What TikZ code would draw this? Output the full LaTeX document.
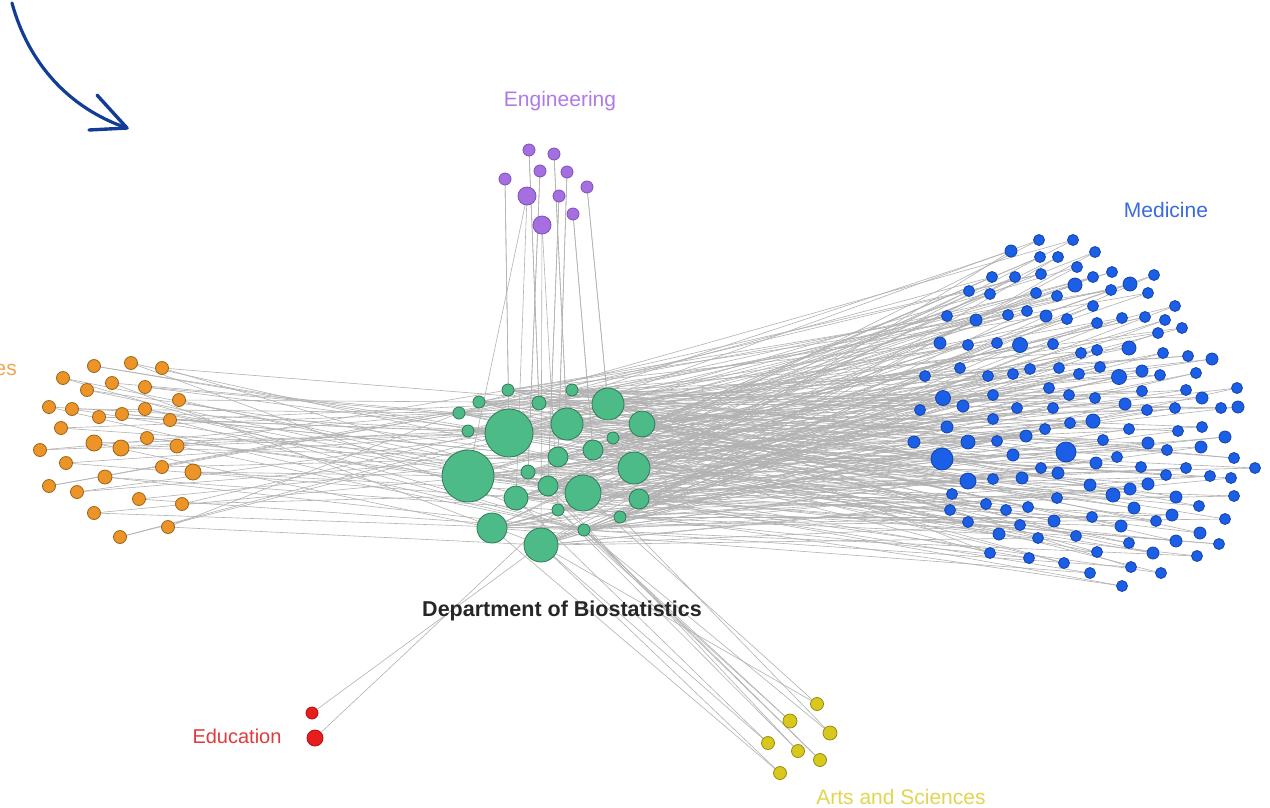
\documentclass[tikz,border=0pt]{standalone}
\usepackage{fontspec}
\setmainfont{Liberation Sans}
\pgfdeclarelayer{bg}
\pgfsetlayers{bg,main}
\definecolor{grfill}{HTML}{4DBB87}
\definecolor{grdraw}{HTML}{2F7A55}
\definecolor{blfill}{HTML}{1B5FE6}
\definecolor{bldraw}{HTML}{1543A8}
\definecolor{orfill}{HTML}{EC9428}
\definecolor{ordraw}{HTML}{9A6418}
\definecolor{pufill}{HTML}{A56FE0}
\definecolor{pudraw}{HTML}{7D4FC0}
\definecolor{refill}{HTML}{E81E1E}
\definecolor{redraw}{HTML}{A81414}
\definecolor{yefill}{HTML}{D8C81E}
\definecolor{yedraw}{HTML}{978A12}
\definecolor{edgec}{HTML}{B2B2B2}
\definecolor{arrowc}{HTML}{123C96}
\definecolor{labeng}{HTML}{B07AE6}
\definecolor{labmed}{HTML}{3A6AE0}
\definecolor{labor}{HTML}{F2A650}
\definecolor{labedu}{HTML}{E23A3A}
\definecolor{labart}{HTML}{E2D550}
\tikzset{
  dot/.style={circle,inner sep=0pt,line width=0.8pt},
  gdot/.style={dot,fill=grfill,draw=grdraw},
  bdot/.style={dot,fill=blfill,draw=bldraw},
  odot/.style={dot,fill=orfill,draw=ordraw},
  pdot/.style={dot,fill=pufill,draw=pudraw},
  rdot/.style={dot,fill=refill,draw=redraw},
  ydot/.style={dot,fill=yefill,draw=yedraw},
  edge/.style={draw=edgec,line width=0.6pt},
  lab/.style={inner sep=0pt,font=\fontsize{21}{25}\selectfont},
}
\begin{document}
\begin{tikzpicture}[x=1pt,y=-1pt]
\begin{pgfonlayer}{bg}
\fill[white] (0,0) rectangle (1270,807);
\end{pgfonlayer}
\useasboundingbox (0,0) rectangle (1270,807);
% green cluster
\foreach \x/\y/\r [count=\i] in {508/390/6,479/402/6,459/413/6,468/431/6,572/390/6,539/403/7,608/404/16,509/433/24,567/424/16,642/424/13,613/438/6,468/476/26,558/457/10,593/450/10,634/468/16,528/472/7,548/486/10,583/493/18,516/498/12,639/499/10,558/510/6,620/517/6,584/530/6,492/528/15,541/545/17}{
  \pgfmathsetmacro\d{2*\r}
  \node[gdot,minimum size=\d pt] (g\i) at (\x,\y) {};
}
% blue cluster (Medicine)
\foreach \x/\y/\r [count=\i] in {1039/240/5.5,1073/240/5.5,1095/252/5.5,1011/251/6,1040/257/5.5,1058/257/5.5,1077/267/5.5,1093/277/5.5,992/277/5.5,1015/277/5.5,1041/274/5.5,1075/285/7,969/291/5.5,990/294/5.5,1036/293/5.5,1057/296/5.5,1093/306/5.5,947/316/5.5,976/320/6,1008/315/5.5,1027/311/5.5,1046/316/6,1067/319/5.5,1097/323/5.5,940/343/6,968/345/5.5,997/343/5.5,1020/345/7.5,1053/344/5.5,1081/353/5.5,1097/350/5.5,925/376/5.5,960/368/5.5,988/376/5.5,1013/374/5.5,1030/369/5.5,1059/368/5.5,1079/374/5.5,1049/388/5.5,1069/395/5.5,1095/398/5.5,943/398/7.5,963/406/6,993/395/5.5,1017/408/5.5,1053/408/5.5,920/410/5.5,1112/272/5.5,1154/275/5.5,1111/290/5.5,1130/284/7,1148/293/5.5,1175/306/5.5,1122/318/5.5,1145/317/5.5,1165/320/5.5,1158/333/5.5,1182/328/5.5,1129/348/7,1163/353/5.5,1188/356/5.5,1212/359/6,1100/367/5.5,1119/377/7.5,1142/371/6,1160/375/5.5,1196/373/5.5,1142/391/5.5,1186/390/5.5,1202/398/6,1237/388/5.5,1125/404/6,1147/410/5.5,1175/408/5.5,1221/408/5.5,1238/407/6,1093/421/7,1070/423/5.5,947/427/6,993/419/5.5,1045/429/5.5,914/442/6,968/442/7,997/441/5.5,1026/436/6,1066/452/10,942/459/11,1013/455/6,1041/468/5.5,1058/473/6,1096/463/6,968/481/8,993/479/5.5,1022/478/6,1090/485/6,952/494/5.5,950/510/5.5,986/504/5.5,1006/510/5.5,1028/507/5.5,1057/498/5.5,968/522/5.5,999/534/6,1020/525/5.5,1054/521/6,1092/517/5.5,1038/538/5.5,1076/536/5.5,990/553/5.5,1029/558/5.5,1064/563/5.5,1097/552/5.5,1090/573/5.5,1129/429/5.5,1178/431/5.5,1202/427/5.5,1225/437/6,1103/440/5.5,1148/443/6,1167/450/5.5,1201/447/6,1117/457/5.5,1141/467/5.5,1186/468/5.5,1234/458/5.5,1255/468/5.5,1113/495/7,1130/489/6,1148/484/6,1166/475/5.5,1210/476/5.5,1231/478/5.5,1176/497/6,1199/506/5.5,1234/496/5.5,1134/508/6,1156/521/5.5,1172/515/6,1225/519/5.5,1121/526/6,1200/533/6,1219/544/5.5,1129/543/5.5,1153/553/6,1176/541/6,1197/556/5.5,1131/567/5.5,1161/573/5.5,1122/586/5.5}{
  \pgfmathsetmacro\d{2*\r}
  \node[bdot,minimum size=\d pt] (b\i) at (\x,\y) {};
  \pgfmathtruncatemacro\ta{mod(7*\i,25)+1}
  \pgfmathtruncatemacro\tb{mod(11*\i+5,25)+1}
  \begin{pgfonlayer}{bg}
    \draw[edge] (b\i.center) -- (g\ta.center);
    \draw[edge] (b\i.center) -- (g\tb.center);
  \end{pgfonlayer}
}
% orange cluster
\foreach \x/\y/\r [count=\i] in {94/366/6.5,131/363/6.5,162/368/6.5,63/378/6.5,112/383/6.5,145/387/6.5,87/390/6.5,179/400/6.5,49/407/6.5,72/409/6.5,99/417/6.5,122/414/6.5,145/409/6.5,170/420/6.5,61/428/6.5,94/443/8,121/448/8,147/438/6.5,177/446/7,40/450/6.5,66/463/6.5,162/467/6.5,193/472/8,105/477/7,49/486/6.5,77/492/6.5,139/499/6.5,182/504/6.5,94/513/6.5,168/527/6.5,120/537/6.5}{
  \pgfmathsetmacro\d{2*\r}
  \node[odot,minimum size=\d pt] (o\i) at (\x,\y) {};
  \pgfmathtruncatemacro\ta{mod(5*\i+2,25)+1}
  \pgfmathtruncatemacro\tb{mod(9*\i+4,25)+1}
  \begin{pgfonlayer}{bg}
    \draw[edge] (o\i.center) -- (g\ta.center);
    \draw[edge] (o\i.center) -- (g\tb.center);
  \end{pgfonlayer}
}
% purple cluster (Engineering)
\foreach \x/\y/\r/\ta/\tb [count=\i] in {529/150/6/6/6,554/154/6/9/9,540/171/6/16/16,567/172/6/13/13,505/179/6/8/8,587/187/6/7/7,527/196/9/19/12,559/196/6/17/17,573/214/6/14/14,542/225/9/25/21}{
  \pgfmathsetmacro\d{2*\r}
  \node[pdot,minimum size=\d pt] (p\i) at (\x,\y) {};
  \begin{pgfonlayer}{bg}
    \draw[edge] (p\i.center) -- (g\ta.center);
    \draw[edge] (p\i.center) -- (g\tb.center);
  \end{pgfonlayer}
}
% red (Education)
\node[rdot,minimum size=12pt] (e1) at (312,713) {};
\node[rdot,minimum size=16pt] (e2) at (315,738) {};
\begin{pgfonlayer}{bg}
  \draw[edge] (e1.center) -- (g25.center);
  \draw[edge] (e2.center) -- (g21.center);
\end{pgfonlayer}
% yellow (Arts and Sciences)
\foreach \x/\y/\r/\ta/\tb [count=\i] in {817/704/6.5/25/18,790/721/7/21/23,830/733/7/23/22,768/743/6.5/19/25,798/751/6.5/17/21,820/760/6.5/16/23,780/773/6.5/24/25}{
  \pgfmathsetmacro\d{2*\r}
  \node[ydot,minimum size=\d pt] (y\i) at (\x,\y) {};
  \begin{pgfonlayer}{bg}
    \draw[edge] (y\i.center) -- (g\ta.center);
    \draw[edge] (y\i.center) -- (g\tb.center);
  \end{pgfonlayer}
}
% labels
\node[lab,text=labeng] (leng) at (560,101) {Engineering};
\node[lab,text=labmed] (lmed) at (1166,210) {Medicine};
\node[lab,text=labor,anchor=east] (lor) at (17,370) {es};
\node[lab,text=black!85,font=\fontsize{21.5}{25}\selectfont\bfseries] (ldep) at (562,611) {Department of Biostatistics};
\node[lab,text=labedu,font=\fontsize{20}{24}\selectfont] (ledu) at (237,736) {Education};
\node[lab,text=labart] (lart) at (901,797) {Arts and Sciences};
% hand-drawn arrow
\coordinate (a0) at (12,3);
\coordinate (a1) at (127,128);
\coordinate (h1) at (97,95);
\coordinate (h2) at (89,130);
\draw[arrowc,line width=3.2pt,line cap=round] (a0) .. controls (28,62) and (68,108) .. (a1);
\draw[arrowc,line width=3.4pt,line cap=round,line join=round] (h1) -- (a1) -- (h2);
\end{tikzpicture}
\end{document}
